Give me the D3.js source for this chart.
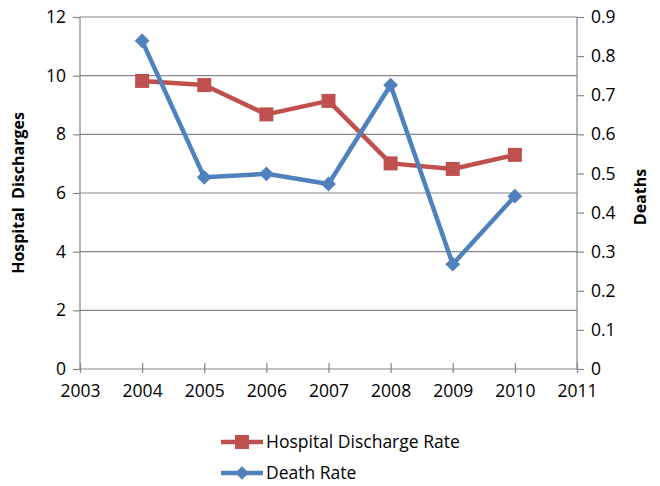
<!DOCTYPE html>
<html>
<head>
<meta charset="utf-8">
<script src="https://cdn.jsdelivr.net/npm/d3@7"></script>
<style>
  body { margin: 0; background: #fff; }
  text { font-family: "Open Sans", "Liberation Sans", sans-serif; }
</style>
</head>
<body>
<div id="chart"></div>
<script>
const YEARS = [2004, 2005, 2006, 2007, 2008, 2009, 2010];
const DISCHARGE = [9.82, 9.68, 8.68, 9.14, 7.01, 6.82, 7.30];
const DEATHS = [0.839, 0.490, 0.499, 0.473, 0.726, 0.268, 0.442];
const X_TICKS = [2003, 2004, 2005, 2006, 2007, 2008, 2009, 2010, 2011];
const LEFT_TICKS = [0, 2, 4, 6, 8, 10, 12];
const RIGHT_TICKS = [0, 0.1, 0.2, 0.3, 0.4, 0.5, 0.6, 0.7, 0.8, 0.9];

const RED = "#C0504D", BLUE = "#4F81BD", GRID = "#868686";

var W = 660, H = 486;
var margin = { top: 17, right: 83, bottom: 117, left: 80 },
  width = W - margin.left - margin.right,
  height = H - margin.top - margin.bottom;

var svg = d3.select("#chart").append("svg")
  .attr("width", W).attr("height", H);

var g = svg.append("g")
  .attr("transform", "translate(" + margin.left + "," + margin.top + ")");

var x = d3.scaleLinear().domain([2003, 2011]).range([0, width]);
var y = d3.scaleLinear().domain([0, 12]).range([height, 0]);
var y2 = d3.scaleLinear().domain([0, 0.9]).range([height, 0]);

// gridlines
g.selectAll("line.grid").data(LEFT_TICKS.filter(d => d > 0)).enter()
  .append("line").attr("class", "grid")
  .attr("x1", 0).attr("x2", width)
  .attr("y1", d => y(d)).attr("y2", d => y(d))
  .attr("stroke", GRID).attr("stroke-width", 1.2);

// left axis
var yAxis = g.append("g")
  .call(d3.axisLeft(y).tickValues(LEFT_TICKS).tickSize(7).tickPadding(7).tickFormat(d3.format("d")));
// right axis
var y2Axis = g.append("g").attr("transform", "translate(" + width + ",0)")
  .call(d3.axisRight(y2).tickValues(RIGHT_TICKS).tickSize(7).tickPadding(7)
    .tickFormat(d => d === 0 ? "0" : d3.format(".1f")(d)));
// bottom axis
var xAxis = g.append("g").attr("transform", "translate(0," + height + ")")
  .call(d3.axisBottom(x).tickValues(X_TICKS).tickSize(4).tickPadding(12).tickFormat(d3.format("d")));
xAxis.selectAll(".tick line").attr("y1", -6);

[yAxis, y2Axis, xAxis].forEach(a => {
  a.select(".domain").attr("stroke", GRID).attr("stroke-width", 1.2);
  a.selectAll(".tick line").attr("stroke", GRID).attr("stroke-width", 1.2);
  a.selectAll("text").style("font-size", "17.5px").attr("fill", "#000");
});
y2Axis.select(".domain").attr("d", "M0,0V" + height);
yAxis.select(".domain").attr("d", "M0,0V" + height);
xAxis.select(".domain").attr("d", "M0,0H" + width);

// axis titles
svg.append("text")
  .attr("transform", "translate(24," + (margin.top + height / 2) + ") rotate(-90)")
  .attr("text-anchor", "middle")
  .style("font-size", "16px").style("font-weight", "bold")
  .style("white-space", "pre")
  .text("Hospital  Discharges");
svg.append("text")
  .attr("transform", "translate(646," + (margin.top + height / 2 + 4) + ") rotate(-90)")
  .attr("text-anchor", "middle")
  .style("font-size", "16px").style("font-weight", "bold")
  .text("Deaths");

var discharge = YEARS.map((yr, i) => ({ year: yr, value: DISCHARGE[i] }));
var deaths = YEARS.map((yr, i) => ({ year: yr, value: DEATHS[i] }));

var line1 = d3.line().x(d => x(d.year)).y(d => y(d.value));
var line2 = d3.line().x(d => x(d.year)).y(d => y2(d.value));

g.append("path").datum(discharge)
  .attr("d", line1).attr("fill", "none")
  .attr("stroke", RED).attr("stroke-width", 4.5).attr("stroke-linejoin", "round");
g.selectAll("rect.pt").data(discharge).enter()
  .append("rect").attr("class", "pt")
  .attr("x", d => x(d.year) - 7).attr("y", d => y(d.value) - 7)
  .attr("width", 14).attr("height", 14).attr("fill", RED);

g.append("path").datum(deaths)
  .attr("d", line2).attr("fill", "none")
  .attr("stroke", BLUE).attr("stroke-width", 4.5).attr("stroke-linejoin", "round");
var diamond = d3.symbol().type(d3.symbolSquare).size(110);
g.selectAll("path.pt").data(deaths).enter()
  .append("path").attr("class", "pt")
  .attr("d", diamond())
  .attr("transform", d => "translate(" + x(d.year) + "," + y2(d.value) + ") rotate(45)")
  .attr("fill", BLUE);

// legend
var legend = svg.append("g");
var items = [
  { name: "Hospital Discharge Rate", color: RED, shape: "square", y: 442 },
  { name: "Death Rate", color: BLUE, shape: "diamond", y: 473 }
];
items.forEach(it => {
  legend.append("line")
    .attr("x1", 221).attr("x2", 263).attr("y1", it.y).attr("y2", it.y)
    .attr("stroke", it.color).attr("stroke-width", 4.5);
  if (it.shape === "square") {
    legend.append("rect").attr("x", 235).attr("y", it.y - 7)
      .attr("width", 14).attr("height", 14).attr("fill", it.color);
  } else {
    legend.append("path").attr("d", d3.symbol().type(d3.symbolSquare).size(90)())
      .attr("transform", "translate(242," + it.y + ") rotate(45)")
      .attr("fill", it.color);
  }
  legend.append("text")
    .attr("x", 266).attr("y", it.y).attr("dy", "0.35em")
    .style("font-size", "17.5px")
    .text(it.name);
});
</script>
</body>
</html>
